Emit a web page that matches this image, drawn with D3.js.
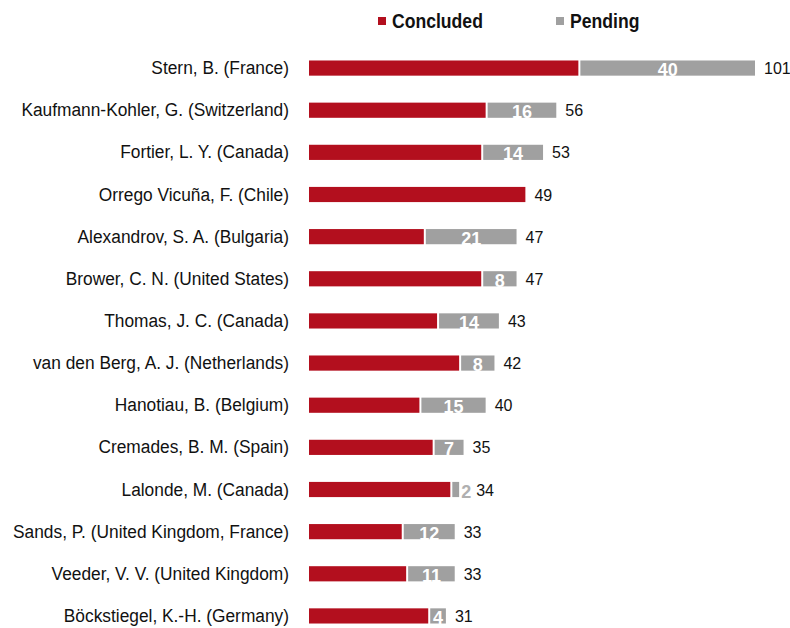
<!DOCTYPE html>
<html>
<head>
<meta charset="utf-8">
<script src="https://cdn.jsdelivr.net/npm/d3@7"></script>
<style>
  body { margin: 0; background: #fff; }
  text { font-family: "Liberation Sans Narrow", "Arial Narrow", "Liberation Sans", sans-serif; }
</style>
</head>
<body>
<div id="chart"></div>
<script>
var svgWidth = 790;
var svgHeight = 628;

var margin = { top: 47, right: 20, bottom: 0, left: 309 };

// data
var arbitrators = [
  "Stern, B. (France)",
  "Kaufmann-Kohler, G. (Switzerland)",
  "Fortier, L. Y. (Canada)",
  "Orrego Vicuña, F. (Chile)",
  "Alexandrov, S. A. (Bulgaria)",
  "Brower, C. N. (United States)",
  "Thomas, J. C. (Canada)",
  "van den Berg, A. J. (Netherlands)",
  "Hanotiau, B. (Belgium)",
  "Cremades, B. M. (Spain)",
  "Lalonde, M. (Canada)",
  "Sands, P. (United Kingdom, France)",
  "Veeder, V. V. (United Kingdom)",
  "Böckstiegel, K.-H. (Germany)"
];
var totals = [101, 56, 53, 49, 47, 47, 43, 42, 40, 35, 34, 33, 33, 31];
var pending = [40, 16, 14, 0, 21, 8, 14, 8, 15, 7, 2, 12, 11, 4];

var seriesNames = ["Concluded", "Pending"];
var colors = ["#b30f1e", "#a0a0a0"];

// the reference uses a condensed face; squeeze the regular one a little
var squeeze = 0.912;

var data = arbitrators.map(function(name, i) {
  return { name: name, total: totals[i], pending: pending[i], concluded: totals[i] - pending[i] };
});

var svg = d3.select("#chart")
  .append("svg")
  .attr("width", svgWidth)
  .attr("height", svgHeight);

var chartGroup = svg.append("g")
  .attr("transform", `translate(${margin.left}, ${margin.top})`);

var xScale = d3.scaleLinear()
  .domain([0, 101])
  .range([0, 446]);

var yScale = d3.scaleBand()
  .domain(arbitrators)
  .range([0, 590])
  .paddingInner(0.64)
  .paddingOuter(0.32);

var barH = yScale.bandwidth();

// category labels
var leftAxis = d3.axisLeft(yScale).tickSize(0).tickPadding(20);
var yAxis = chartGroup.append("g").call(leftAxis);
yAxis.select(".domain").remove();
yAxis.selectAll("text")
  .attr("font-family", null)
  .attr("x", -20 / squeeze)
  .attr("transform", `scale(${squeeze}, 1)`)
  .style("font-size", "19px")
  .attr("fill", "#111");

var rows = chartGroup.selectAll(".row")
  .data(data)
  .enter()
  .append("g")
  .attr("class", "row")
  .attr("transform", d => `translate(0, ${yScale(d.name)})`);

rows.append("rect")
  .attr("x", 0)
  .attr("y", 0)
  .attr("width", d => xScale(d.concluded))
  .attr("height", barH)
  .attr("fill", colors[0]);

rows.filter(d => d.pending > 0)
  .append("rect")
  .attr("x", d => xScale(d.concluded) + 2)
  .attr("y", 0)
  .attr("width", d => xScale(d.pending) - 2)
  .attr("height", barH)
  .attr("fill", colors[1]);

// pending labels: inside the grey bar, or just after it when the bar is too thin
rows.filter(d => d.pending > 0)
  .append("text")
  .attr("x", d => d.pending > 3
    ? xScale(d.concluded) + xScale(d.pending) / 2 + 1
    : xScale(d.total) + 2)
  .attr("y", barH / 2)
  .attr("dy", "0.45em")
  .attr("text-anchor", d => d.pending > 3 ? "middle" : "start")
  .attr("fill", d => d.pending > 3 ? "#fff" : "#b0b0b0")
  .style("font-size", "18px")
  .style("font-weight", "bold")
  .text(d => d.pending);

// totals
rows.append("text")
  .attr("x", d => xScale(d.total) + (d.pending > 0 && d.pending <= 3 ? 17 : 9))
  .attr("y", barH / 2)
  .attr("dy", "0.38em")
  .attr("fill", "#111")
  .style("font-size", "16px")
  .text(d => d.total);

// legend
var legend = svg.append("g")
  .attr("transform", "translate(378, 21)");

var legendX = [0, 178];
seriesNames.forEach(function(s, i) {
  legend.append("rect")
    .attr("x", legendX[i])
    .attr("y", -4)
    .attr("width", 8)
    .attr("height", 8)
    .attr("fill", colors[i]);
  legend.append("text")
    .attr("x", (legendX[i] + 14) / 0.88)
    .attr("y", 0)
    .attr("dy", "0.36em")
    .attr("transform", "scale(0.88, 1)")
    .attr("fill", "#111")
    .style("font-size", "20px")
    .style("font-weight", "bold")
    .text(s);
});
</script>
</body>
</html>
